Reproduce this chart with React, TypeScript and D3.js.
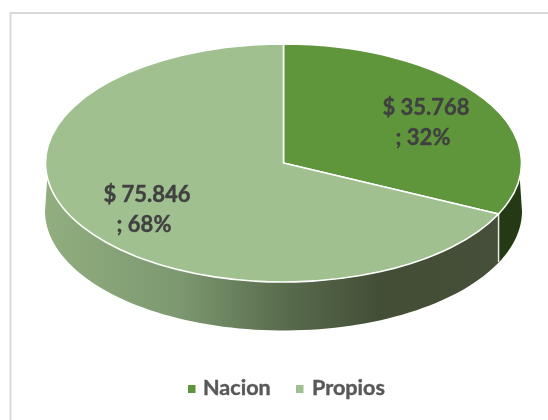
import React from "react";
import * as d3 from "d3";

const categories = ["Nacion", "Propios"];
const values = [35768, 75846];
const valueLabels = ["$ 35.768", "$ 75.846"];
const percentLabels = ["; 32%", "; 68%"];
const topColors = ["#5f963c", "#a0c18f"];

const W = 548, H = 420;
const cx = 283.5, cy = 163, rx = 238, ry = 119, depth = 48;

const pie = d3.pie<number>().sort(null);
const slices = pie(values);
const arc = d3.arc<d3.PieArcDatum<number>>().innerRadius(0).outerRadius(rx);
const sy = ry / rx;

// Point on the ellipse at pie angle a (radians clockwise from 12 o'clock)
const pt = (a: number, dy = 0, r = rx, rv = ry): [number, number] => [
  cx + r * Math.sin(a),
  cy + dy - rv * Math.cos(a),
];

function wall(a0: number, a1: number, bottomA0: number, bottomA1: number) {
  const n = 80;
  const top = d3.range(n + 1).map((i) => pt(a0 + ((a1 - a0) * i) / n));
  const bottom = d3
    .range(n + 1)
    .map((i) => pt(bottomA1 + ((bottomA0 - bottomA1) * i) / n, depth, rx + 0.5, ry + 0.5));
  return d3.line()([...top, ...bottom]) + "Z";
}

const splitA = slices[0].endAngle;
const rad = Math.PI / 180;

const labelPos: [number, number][] = [
  [426, 115],
  [147, 202],
];

export default function App() {
  const [splitX, splitY] = pt(splitA);
  return (
    <svg
      width={W}
      height={H}
      viewBox={`0 0 ${W} ${H}`}
      style={{ position: "absolute", left: 0, top: 0, background: "#fff" }}
      fontFamily="Lato, 'Open Sans', sans-serif"
    >
      <defs>
        <linearGradient id="propiosWall" gradientUnits="userSpaceOnUse" x1={45} x2={498} y1={0} y2={0}>
          <stop offset="0" stopColor="#91ae7f" />
          <stop offset="0.3" stopColor="#7c9870" />
          <stop offset="0.52" stopColor="#5a6d4e" />
          <stop offset="0.74" stopColor="#434e36" />
          <stop offset="1" stopColor="#464f39" />
        </linearGradient>
        <filter id="soft" x="-5%" y="-20%" width="110%" height="140%">
          <feGaussianBlur stdDeviation="0.45" />
        </filter>
      </defs>

      <path d={`M10.5 420V13H548`} fill="none" stroke="#d9d9d9" strokeWidth={2} />

      <path d={wall(splitA, 263 * rad, splitA, 270 * rad)} fill="url(#propiosWall)" />
      <path d={wall(97 * rad, splitA, 90 * rad, splitA)} fill="#243a14" />
      <line x1={splitX} y1={splitY} x2={splitX} y2={splitY + depth} stroke="#e8ebe4" strokeWidth={1.5} />

      <g transform={`translate(${cx},${cy}) scale(1,${sy})`}>
        {slices.map((s, i) => (
          <path
            key={categories[i]}
            d={arc(s) as string}
            fill={topColors[i]}
            stroke="#fff"
            strokeWidth={1.6}
            vectorEffect="non-scaling-stroke"
            strokeLinejoin="round"
          />
        ))}
      </g>

      <g filter="url(#soft)" fontWeight={700}>
        {labelPos.map(([x, y], i) => (
          <text key={i} textAnchor="middle" fontSize={22} fill="#404040" stroke="#404040" strokeWidth={0.4} x={x} y={y}>
            {valueLabels[i]}
            <tspan x={x - 3} dy={30}>{percentLabels[i]}</tspan>
          </text>
        ))}
        <text x={203} y={395} fontSize={21.6} fill="#595959" stroke="#595959" strokeWidth={0.4}>{categories[0]}</text>
        <text x={312} y={395} fontSize={21.6} fill="#595959" stroke="#595959" strokeWidth={0.4}>{categories[1]}</text>
      </g>
      <rect x={188} y={385} width={7.5} height={8} fill={topColors[0]} />
      <rect x={296} y={385} width={7.5} height={8} fill={topColors[1]} />
    </svg>
  );
}
